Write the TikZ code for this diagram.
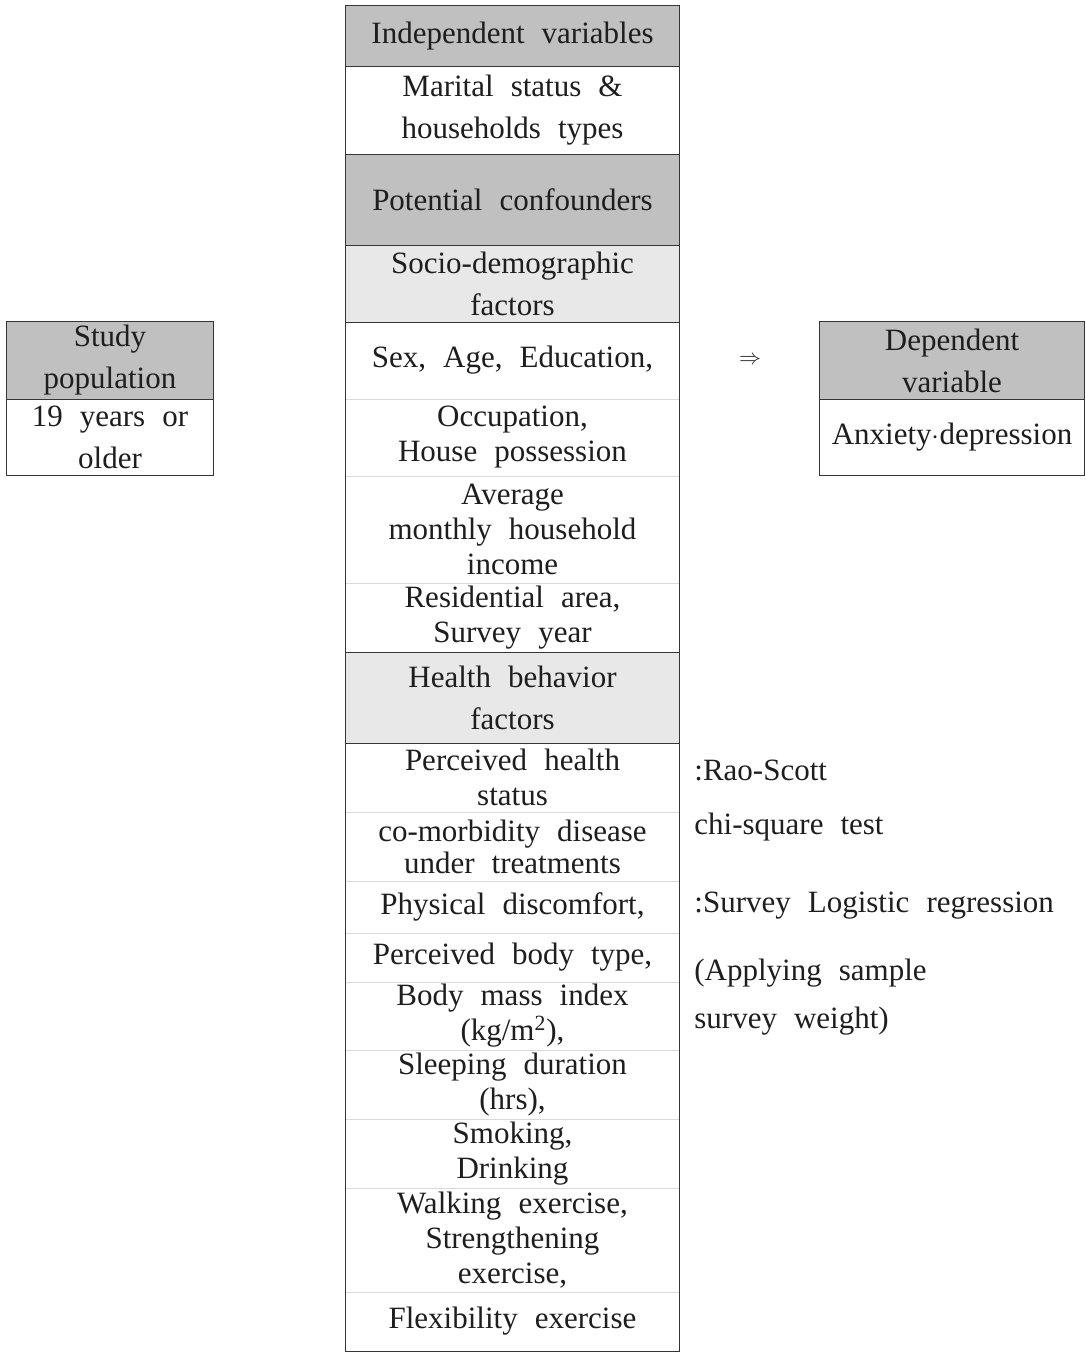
\documentclass[tikz,border=0pt]{standalone}
\usepackage{fontspec}
\setmainfont{Liberation Serif}[WordSpace=2.2]
\usepackage{tikz}

\definecolor{headgray}{HTML}{C0C0C0}
\definecolor{subgray}{HTML}{E8E8E8}
\definecolor{rulegray}{HTML}{D9D9D9}
\definecolor{ink}{HTML}{1E1E1E}

\tikzset{
    cell/.style={rectangle, inner sep=0pt, align=center, text=ink,
        font=\fontsize{15.5}{17.5}\selectfont},
    wide/.style={font=\fontsize{15.5}{21}\selectfont},
    head/.style={cell, fill=headgray},
    sub/.style={cell, wide, fill=subgray},
    item/.style={cell, fill=white},
    darkrule/.style={draw=ink!90, line width=0.8pt},
    lightrule/.style={draw=rulegray, line width=0.6pt},
    note/.style={anchor=base west, inner sep=0pt, text=ink,
        font=\fontsize{15.5}{17.5}\selectfont}
}

\begin{document}
\begin{tikzpicture}[x=0.5pt, y=-0.5pt]

    \useasboundingbox (0,0) rectangle (1085,1352);

    % central column
    \node[head, minimum width=166.5pt, minimum height=30pt] (ivar) at (512.5,36) {Independent variables};
    \node[item, wide, minimum width=166.5pt, minimum height=44pt] (marital) at (512.5,110) {Marital status \&\\households types};
    \node[head, minimum width=166.5pt, minimum height=45.5pt] (conf) at (512.5,199.5) {Potential confounders};
    \node[sub, minimum width=166.5pt, minimum height=38.5pt] (socio) at (512.5,283.5) {Socio-demographic\\factors};
    \node[item, minimum width=166.5pt, minimum height=38.5pt] (sex) at (512.5,360.5) {Sex, Age, Education,};
    \node[item, minimum width=166.5pt, minimum height=38.5pt] (occup) at (512.5,437.5) {Occupation,\\House possession};
    \node[item, minimum width=166.5pt, minimum height=53.5pt] (income) at (512.5,529.5) {Average\\monthly household\\income};
    \node[item, minimum width=166.5pt, minimum height=34.5pt] (resid) at (512.5,617.5) {Residential area,\\Survey year};
    \node[sub, minimum width=166.5pt, minimum height=45.5pt] (health) at (512.5,697.5) {Health behavior\\factors};
    \node[item, minimum width=166.5pt, minimum height=34.5pt] (perc) at (512.5,777.5) {Perceived health\\status};
    \node[item, minimum width=166.5pt, minimum height=34.5pt, font=\fontsize{15.5}{16}\selectfont] (comorb) at (512.5,846.5) {co-morbidity disease\\under treatments};
    \node[item, minimum width=166.5pt, minimum height=26pt] (phys) at (512.5,907) {Physical discomfort,};
    \node[item, minimum width=166.5pt, minimum height=24.5pt] (bodyt) at (512.5,957.5) {Perceived body type,};
    \node[item, minimum width=166.5pt, minimum height=34pt] (bmi) at (512.5,1016) {Body mass index\\(kg/m\textsuperscript{2}),};
    \node[item, minimum width=166.5pt, minimum height=34.5pt] (sleep) at (512.5,1084.5) {Sleeping duration\\(hrs),};
    \node[item, minimum width=166.5pt, minimum height=34.5pt] (smoke) at (512.5,1153.5) {Smoking,\\Drinking};
    \node[item, minimum width=166.5pt, minimum height=52pt] (walk) at (512.5,1240) {Walking exercise,\\Strengthening\\exercise,};
    \node[item, minimum width=166.5pt, minimum height=29.5pt] (flex) at (512.5,1321.5) {Flexibility exercise};

    \foreach \c in {sex,occup,income,perc,comorb,phys,bodyt,bmi,sleep,smoke,walk}
        \draw[lightrule] (\c.south west) -- (\c.south east);
    \foreach \c in {ivar,marital,conf,socio,resid,health}
        \draw[darkrule] (\c.south west) -- (\c.south east);
    \draw[darkrule] (ivar.north west) rectangle (flex.south east);

    % study population
    \node[head, wide, minimum width=103pt, minimum height=38.5pt] (study) at (110,360.5) {Study\\population};
    \node[item, wide, minimum width=103pt, minimum height=38pt] (older) at (110,437) {19 years or\\older};
    \draw[darkrule] (study.south west) -- (study.south east);
    \draw[darkrule] (study.north west) rectangle (older.south east);

    % dependent variable
    \node[head, wide, minimum width=132pt, minimum height=38.5pt] (dep) at (952,360.5) {Dependent\\variable};
    \node[item, minimum width=132pt, minimum height=38pt] (anx) at (952,437) {Anxiety$\cdot$depression};
    \draw[darkrule] (dep.south west) -- (dep.south east);
    \draw[darkrule] (dep.north west) rectangle (anx.south east);

    \node[text=ink, font=\fontsize{11}{11}\selectfont] (implies) at (750,360) {$\Rightarrow$};

    % analysis notes
    \node[note] (rao) at (694,780) {:Rao-Scott};
    \node[note] (chi) at (694,834) {chi-square test};
    \node[note] (logit) at (694,912) {:Survey Logistic regression};
    \node[note] (apply) at (694,980) {(Applying sample};
    \node[note] (weight) at (694,1028) {survey weight)};

\end{tikzpicture}
\end{document}
